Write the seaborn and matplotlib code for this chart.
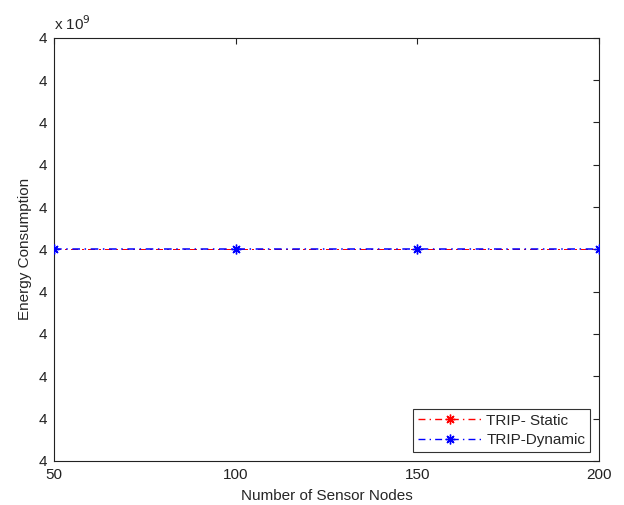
import matplotlib
matplotlib.use("Agg")
import matplotlib.pyplot as plt
import seaborn as sns
import numpy as np

sns.set_style("white")
plt.rcParams['font.family'] = ['Liberation Sans', 'DejaVu Sans']

nodes = [50, 100, 150, 200]
static_energy = [4.0e9, 4.0e9, 4.0e9, 4.0e9]
dynamic_energy = [4.0e9, 4.0e9, 4.0e9, 4.0e9]
y_tick_labels = ['4'] * 11

fig = plt.figure(figsize=(6.24, 5.05), dpi=100)
ax = fig.add_axes([0.0865, 0.0875, 0.8735, 0.8375])

scale = 1e9
star = (8, 2, 0)
sns.lineplot(x=nodes, y=np.array(static_energy) / scale, ax=ax, color='red',
             linestyle='-.', marker=star, markersize=5, linewidth=0.5,
             markeredgecolor='red', markeredgewidth=0.5, label='TRIP- Static', zorder=2)
sns.lineplot(x=nodes, y=np.array(dynamic_energy) / scale, ax=ax, color='blue',
             linestyle='-.', marker=star, markersize=7, linewidth=1.1,
             markeredgecolor='blue', markeredgewidth=1.0, label='TRIP-Dynamic', zorder=3)
lines = ax.get_lines()
for ln in lines:
    ln.set_dashes((5, 3, 1, 3))
lines[0].set_antialiased(False)
lines[0].set_dashes((10, 6, 2, 6))

ax.set_xlim(50, 200)
ax.set_xticks([50, 100, 150, 200])
ax.set_ylim(4 - 5e-9, 4 + 5e-9)
yt = 4 + np.arange(-5, 6) * 1e-9
ax.set_yticks(yt)
ax.set_yticklabels(y_tick_labels)
ax.tick_params(direction='in', length=4, width=0.8, labelsize=11, top=True, right=True,
               colors='#222222')
ax.tick_params(axis='x', pad=5)
ax.tick_params(axis='y', pad=5)
for s in ax.spines.values():
    s.set_color('#222222')
    s.set_linewidth(0.8)
    s.set_visible(True)

ax.set_xlabel('Number of Sensor Nodes', fontsize=11, labelpad=5)
ax.set_ylabel('Energy Consumption', fontsize=11, labelpad=5)
ax.text(0.0, 1.012, r'x 10$^{9}$', transform=ax.transAxes, fontsize=11, ha='left', va='bottom')

leg = ax.legend(loc='lower right', fontsize=11, frameon=True, fancybox=False,
                edgecolor='black', borderaxespad=0.6, handlelength=4.2,
                handletextpad=0.3, borderpad=0.3, labelspacing=0.35)
leg.get_frame().set_linewidth(0.8)
for h in leg.get_lines():
    h.set_dashes((5, 3, 1, 3))
    h.set_linewidth(1.0)
    h.set_markersize(7)
    h.set_markeredgewidth(1.0)
    h.set_antialiased(True)

fig.savefig('out.png', dpi=100, facecolor='white')
